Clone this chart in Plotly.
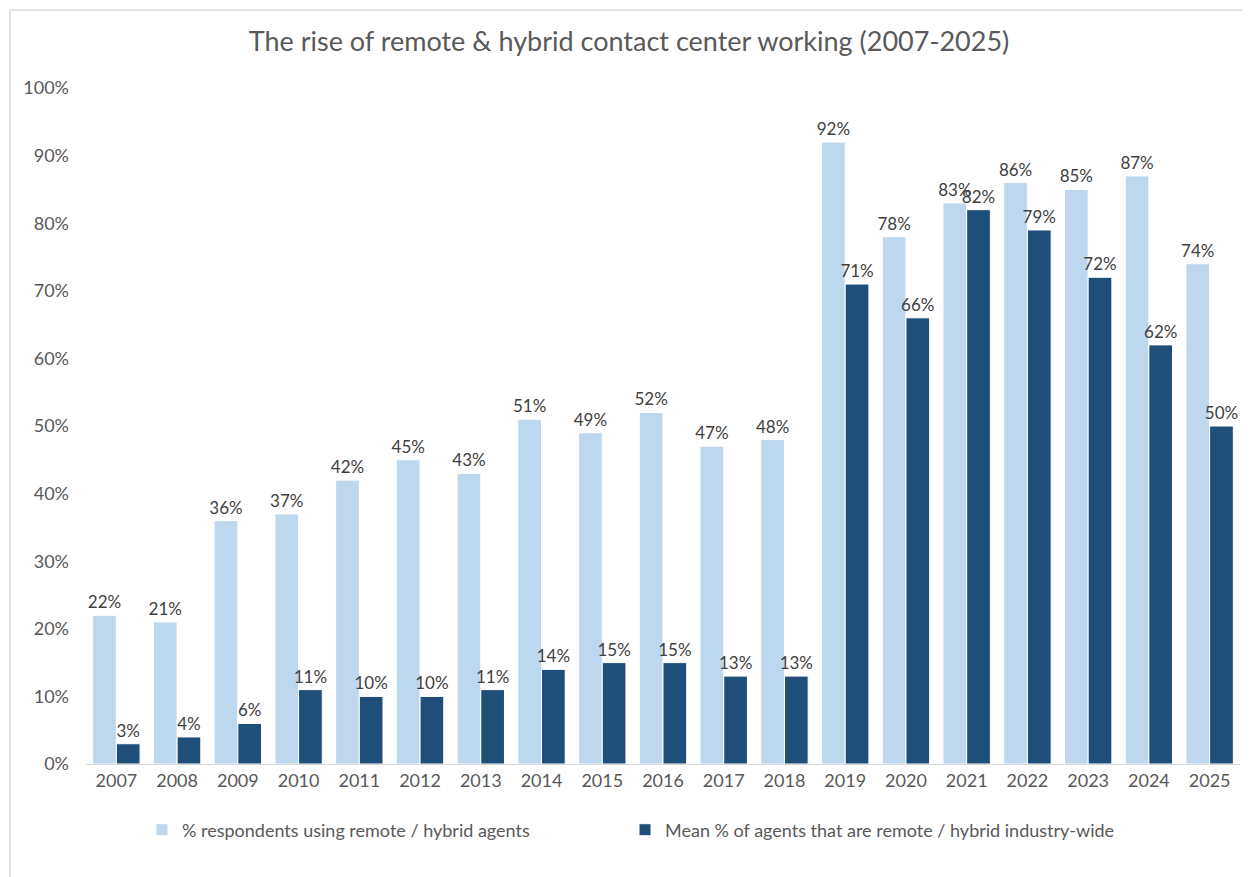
import plotly.graph_objects as go

years = [str(y) for y in range(2007, 2026)]
respondents = [22, 21, 36, 37, 42, 45, 43, 51, 49, 52, 47, 48, 92, 78, 83, 86, 85, 87, 74]
mean_agents = [3, 4, 6, 11, 10, 10, 11, 14, 15, 15, 13, 13, 71, 66, 82, 79, 72, 62, 50]
tick_vals = [0, 10, 20, 30, 40, 50, 60, 70, 80, 90, 100]
tick_text = [f"{v}%" for v in tick_vals]

FONT = "Lato, Calibri, sans-serif"
LBL = 17

fig = go.Figure()
fig.add_trace(go.Bar(
    x=years, y=respondents, name="% respondents using remote / hybrid agents",
    marker=dict(color="#BDD7EE", line=dict(color="white", width=1)),
    text=[f"{v}%" for v in respondents], textposition="outside", constraintext="none",
    textfont=dict(size=LBL, color="#404040", family=FONT), cliponaxis=False,
    legend="legend", showlegend=True,
))
fig.add_trace(go.Bar(
    x=years, y=mean_agents, name="Mean % of agents that are remote / hybrid industry-wide",
    marker=dict(color="#1F4E79", line=dict(color="white", width=1)),
    text=[f"{v}%" for v in mean_agents], textposition="outside", constraintext="none",
    textfont=dict(size=LBL, color="#404040", family=FONT), cliponaxis=False,
    legend="legend2", showlegend=True,
))

# page has an 8px body margin; work in page pixels and convert
OFF = 8
W, H = 1250 - OFF, 877 - OFF
L, R, T, B = 86 - OFF, 10, 88 - OFF, 113
pw, ph = W - L - R, H - T - B
def px(x):
    return (x - OFF - L) / pw
def py(y):
    return (H - B - (y - OFF)) / ph

leg_common = dict(orientation="h", xanchor="left", yanchor="middle", y=py(830),
                  font=dict(size=18, color="#595959"), itemwidth=30,
                  bgcolor="rgba(0,0,0,0)", visible=True)

fig.update_layout(
    width=W, height=H, showlegend=True,
    margin=dict(l=L, r=R, t=T, b=B, autoexpand=False),
    paper_bgcolor="white", plot_bgcolor="white",
    barmode="group", bargap=0.22, bargroupgap=0.0,
    title=dict(text="The rise of remote &amp; hybrid contact center working (2007-2025)",
               x=0.5, xanchor="center", y=1 - (42 - OFF) / H, yanchor="middle",
               font=dict(size=27, color="#595959", family=FONT)),
    font=dict(family=FONT, color="#595959", size=18),
    xaxis=dict(showgrid=False, showline=True, linecolor="#D9D9D9", linewidth=1,
               ticks="", tickfont=dict(size=18, color="#595959"), automargin=False),
    yaxis=dict(range=[0, 100], tickvals=tick_vals, ticktext=tick_text,
               showgrid=False, zeroline=False, showline=False, automargin=False,
               tickfont=dict(size=18, color="#595959"), ticklabelstandoff=16),
    legend=dict(x=px(142), **leg_common),
    legend2=dict(x=px(625), **leg_common),
    shapes=[
        dict(type="line", xref="paper", yref="paper", x0=px(10), x1=px(1260), y0=py(10), y1=py(10),
             line=dict(color="#D9D9D9", width=1.5)),
        dict(type="line", xref="paper", yref="paper", x0=px(10), x1=px(10), y0=py(10), y1=py(890),
             line=dict(color="#D9D9D9", width=1.5)),
    ],
)

fig.write_html("out.html")
